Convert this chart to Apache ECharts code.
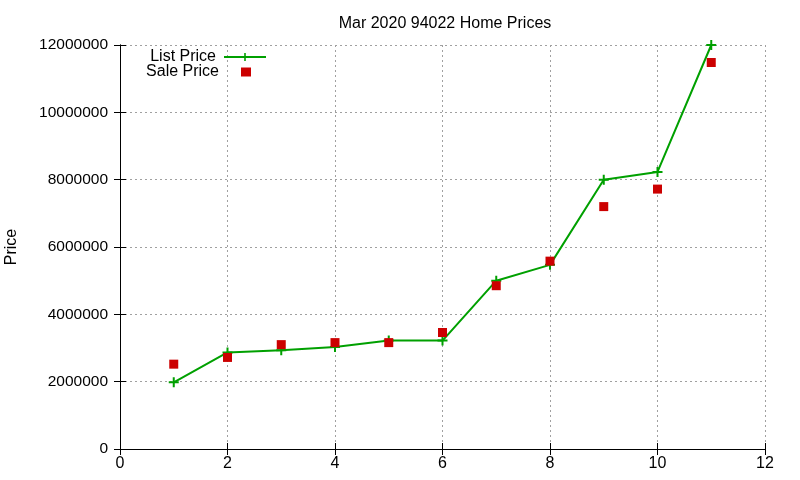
<!DOCTYPE html>
<html>
<head>
<meta charset="utf-8">
<script src="https://cdn.jsdelivr.net/npm/echarts@6/dist/echarts.min.js"></script>
<style>
	body { margin: 0; background: #fff; }
	#main { width: 800px; height: 480px; }
</style>
</head>
<body>
<div id="main"></div>
<script>
// 数据
var months = [1, 2, 3, 4, 5, 6, 7, 8, 9, 10, 11];
var listPrice = [1980000, 2870000, 2930000, 3030000, 3220000, 3220000, 5000000, 5470000, 8000000, 8230000, 12000000];
var salePrice = [2520000, 2720000, 3100000, 3160000, 3160000, 3460000, 4850000, 5580000, 7200000, 7720000, 11480000];
var xTicks = [0, 2, 4, 6, 8, 10, 12];
var yTicks = [0, 2000000, 4000000, 6000000, 8000000, 10000000, 12000000];

var plus = 'path://M4,0H6V4H10V6H6V10H4V6H0V4H4Z';
var font = 'Liberation Sans, Arial, sans-serif';

function pairs(xs, ys) {
	var out = [];
	for (var i = 0; i < xs.length; i++) {
		out.push([xs[i], ys[i]]);
	}
	return out;
}

var myChart = echarts.init(document.getElementById('main'));

var gridLine = { show: true, lineStyle: { color: '#a0a0a0', type: [2, 3], width: 1 } };
var axisLine = { show: true, lineStyle: { color: '#000', width: 1 } };
var tick = { show: true, inside: true, length: 6, lineStyle: { color: '#000' } };
var legendText = { fontFamily: font, fontSize: 16, color: '#000' };

var option = {
	animation: false,
	backgroundColor: '#fff',
	title: {
		text: 'Mar 2020 94022 Home Prices',
		left: 440,
		textAlign: 'center',
		top: 11,
		textStyle: { fontFamily: font, fontSize: 16, fontWeight: 'normal', color: '#000' }
	},
	legend: [{
		right: 528,
		top: 44,
		align: 'right',
		itemWidth: 42,
		itemHeight: 10,
		textStyle: Object.assign({ padding: [0, 3, 0, 0] }, legendText),
		data: ['List Price']
	}, {
		right: 544,
		top: 59,
		align: 'right',
		itemWidth: 10,
		itemHeight: 9,
		textStyle: Object.assign({ padding: [0, 17, 0, 0] }, legendText),
		data: ['Sale Price']
	}],
	grid: { left: 120, right: 35, top: 45, bottom: 31, outerBoundsMode: 'none', containLabel: false },
	xAxis: [{
		type: 'value',
		min: xTicks[0],
		max: xTicks[xTicks.length - 1],
		interval: xTicks[1] - xTicks[0],
		axisLine: axisLine,
		axisTick: tick,
		splitLine: gridLine,
		axisLabel: { fontFamily: font, fontSize: 16, color: '#000', margin: 7 }
	}, {
		type: 'value',
		position: 'top',
		min: xTicks[0],
		max: xTicks[xTicks.length - 1],
		interval: xTicks[1] - xTicks[0],
		axisLine: axisLine,
		axisTick: tick,
		splitLine: { show: false },
		axisLabel: { show: false }
	}],
	yAxis: [{
		type: 'value',
		name: 'Price',
		nameLocation: 'middle',
		nameRotate: 90,
		nameGap: 100,
		nameTextStyle: { fontFamily: font, fontSize: 16, color: '#000' },
		min: yTicks[0],
		max: yTicks[yTicks.length - 1],
		interval: yTicks[1] - yTicks[0],
		axisLine: axisLine,
		axisTick: tick,
		splitLine: gridLine,
		axisLabel: {
			fontFamily: font,
			fontSize: 15.5,
			color: '#000',
			margin: 12,
			formatter: function(v) { return String(v); }
		}
	}, {
		type: 'value',
		position: 'right',
		min: yTicks[0],
		max: yTicks[yTicks.length - 1],
		interval: yTicks[1] - yTicks[0],
		axisLine: axisLine,
		axisTick: tick,
		splitLine: { show: false },
		axisLabel: { show: false }
	}],
	series: [{
			name: 'List Price',
			type: 'line',
			data: pairs(months, listPrice),
			symbol: plus,
			symbolSize: 10,
			showAllSymbol: true,
			lineStyle: { color: '#00a000', width: 2 },
			itemStyle: { color: '#00a000' },
			z: 3
		},
		{
			name: 'Sale Price',
			type: 'scatter',
			data: pairs(months, salePrice),
			symbol: 'rect',
			symbolSize: 9,
			itemStyle: { color: '#cc0000', opacity: 1 },
			z: 4
		}
	]
};

myChart.setOption(option);
</script>
</body>
</html>
